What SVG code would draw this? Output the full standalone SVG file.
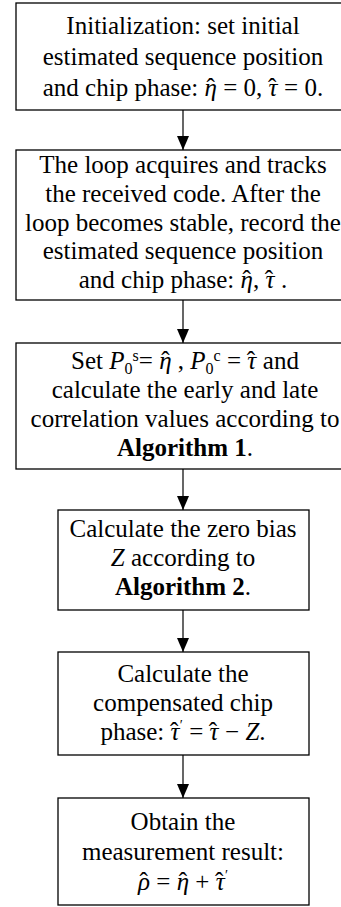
<svg xmlns="http://www.w3.org/2000/svg" width="341" height="907" viewBox="0 0 341 907">
<defs>
<style>
.box{fill:#fff;stroke:#000;stroke-width:1.3}
.t{font-family:"Liberation Serif","Times New Roman",serif;font-size:25px;fill:#000;text-anchor:middle}
.i{font-style:italic}
.b{font-weight:bold}
.c{stroke:#000;stroke-width:1.2;fill:none}
</style>
<marker id="ah" viewBox="0 0 12 14" refX="6" refY="14" markerWidth="12" markerHeight="14" markerUnits="userSpaceOnUse" orient="0">
<path d="M0,0 L12,0 L6,14 z" fill="#000"/>
</marker>
</defs>
<rect width="341" height="907" fill="#fff"/>
<g id="connectors">
<line class="c" x1="183" y1="110" x2="183" y2="150" marker-end="url(#ah)"/>
<line class="c" x1="183" y1="300" x2="183" y2="343" marker-end="url(#ah)"/>
<line class="c" x1="183" y1="469" x2="183" y2="510" marker-end="url(#ah)"/>
<line class="c" x1="183" y1="610" x2="183" y2="652" marker-end="url(#ah)"/>
<line class="c" x1="183" y1="755" x2="183" y2="798" marker-end="url(#ah)"/>
</g>
<g id="n1">
<rect class="box" x="16" y="3" width="340" height="107"/>
<text class="t" x="183" y="34">Initialization: set initial</text>
<text class="t" x="183" y="65">estimated sequence position</text>
<text class="t" x="183" y="96">and chip phase: <tspan class="i">η</tspan><tspan dx="-10.4">ˆ</tspan><tspan dx="2.1"> = 0, </tspan><tspan class="i">τ</tspan><tspan dx="-9.6">ˆ</tspan><tspan dx="1.6"> = 0.</tspan></text>
</g>
<g id="n2">
<rect class="box" x="16" y="150" width="340" height="150"/>
<text class="t" x="183" y="173">The loop acquires and tracks</text>
<text class="t" x="183" y="202">the received code.  After the</text>
<text class="t" x="183" y="231">loop becomes stable, record the</text>
<text class="t" x="183" y="259">estimated sequence position</text>
<text class="t" x="183" y="288">and chip phase:  <tspan class="i">η</tspan><tspan dx="-10.4">ˆ</tspan><tspan dx="2.1">, </tspan><tspan class="i">τ</tspan><tspan dx="-9.6">ˆ</tspan><tspan dx="1.6"> .</tspan></text>
</g>
<g id="n3">
<rect class="box" x="16" y="343" width="340" height="126"/>
<text class="t" x="185" y="369">Set <tspan class="i">P</tspan><tspan font-size="16" dy="5">0</tspan><tspan font-size="16" dy="-13">s</tspan><tspan dy="8">= </tspan><tspan class="i">η</tspan><tspan dx="-10.4">ˆ</tspan><tspan dx="2.1"> , </tspan><tspan class="i">P</tspan><tspan font-size="16" dy="5">0</tspan><tspan font-size="16" dy="-13">c</tspan><tspan dy="8"> = </tspan><tspan class="i">τ</tspan><tspan dx="-9.6">ˆ</tspan><tspan dx="1.6">  and</tspan></text>
<text class="t" x="185" y="398">calculate the early and late</text>
<text class="t" x="185" y="427">correlation values according to</text>
<text class="t" x="185" y="456"><tspan class="b">Algorithm 1</tspan>.</text>
</g>
<g id="n4">
<rect class="box" x="58" y="510" width="251" height="100"/>
<text class="t" x="183" y="537">Calculate the zero bias</text>
<text class="t" x="183" y="566"><tspan class="i">Z</tspan> according to</text>
<text class="t" x="183" y="595"><tspan class="b">Algorithm 2</tspan>.</text>
</g>
<g id="n5">
<rect class="box" x="58" y="652" width="251" height="103"/>
<text class="t" x="183" y="682">Calculate the</text>
<text class="t" x="183" y="711">compensated chip</text>
<text class="t" x="183" y="740">phase:  <tspan class="i">τ</tspan><tspan dx="-9.6">ˆ</tspan><tspan dx="1.6" font-size="14" dy="-10">′</tspan><tspan dy="10"> = </tspan><tspan class="i">τ</tspan><tspan dx="-9.6">ˆ</tspan><tspan dx="1.6"> − </tspan><tspan class="i">Z</tspan>.</text>
</g>
<g id="n6">
<rect class="box" x="58" y="798" width="251" height="107"/>
<text class="t" x="183" y="830">Obtain the</text>
<text class="t" x="183" y="860">measurement result:</text>
<text class="t" x="183" y="890"><tspan class="i">ρ</tspan><tspan dx="-10.4">ˆ</tspan><tspan dx="2.1"> = </tspan><tspan class="i">η</tspan><tspan dx="-10.4">ˆ</tspan><tspan dx="2.1"> + </tspan><tspan class="i">τ</tspan><tspan dx="-9.6">ˆ</tspan><tspan dx="1.6" font-size="14" dy="-10">′</tspan></text>
</g>
</svg>
